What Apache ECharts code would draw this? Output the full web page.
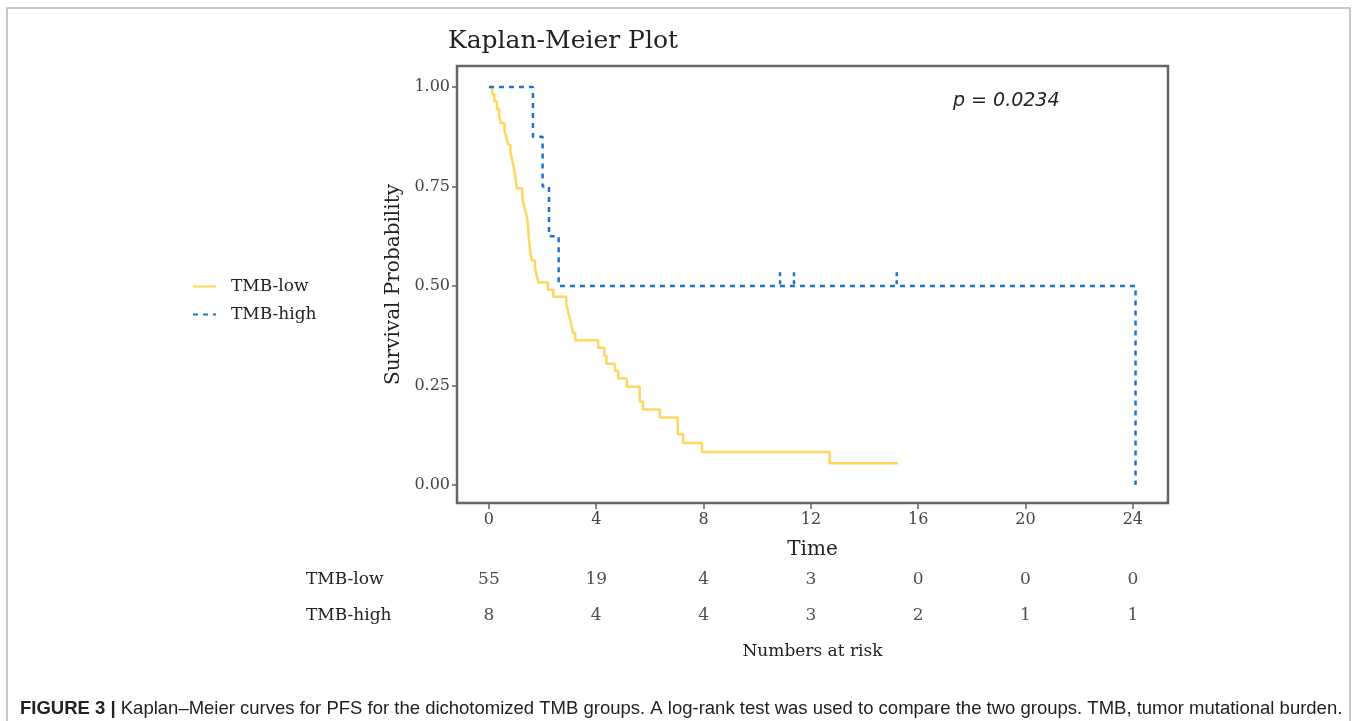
<!DOCTYPE html>
<html>
<head>
<meta charset="utf-8">
<script src="https://cdn.jsdelivr.net/npm/echarts@6/dist/echarts.min.js"></script>
<style>
html,body{margin:0;padding:0;background:#fff;}
#main{width:1357px;height:721px;}
</style>
</head>
<body>
<div id="main"></div>
<script>
// ---- data ----
const xTicks = [0, 4, 8, 12, 16, 20, 24];
const yTicks = [0, 0.25, 0.5, 0.75, 1.0];
const groups = ['TMB-low', 'TMB-high'];

const lowTimes = [0, 0.12, 0.2, 0.3, 0.38, 0.45, 0.58, 0.65, 0.72, 0.8, 0.86, 0.92, 0.97, 1.0, 1.04,
  1.24, 1.28, 1.35, 1.42, 1.45, 1.47, 1.49, 1.52, 1.55, 1.6, 1.72, 1.78, 1.85, 2.2, 2.4,
  2.88, 2.95, 3.02, 3.08, 3.14, 3.22, 4.07, 4.3, 4.38, 4.7, 4.82, 5.14, 5.62, 5.74, 6.37,
  7.04, 7.24, 7.94, 12.7, 15.25];
const lowSurv = [1.0, 0.982, 0.964, 0.945, 0.927, 0.909, 0.891, 0.873, 0.855, 0.836, 0.818, 0.8, 0.782, 0.764, 0.745,
  0.727, 0.709, 0.691, 0.673, 0.655, 0.636, 0.618, 0.6, 0.582, 0.564, 0.545, 0.527, 0.509, 0.491, 0.473,
  0.455, 0.436, 0.418, 0.4, 0.382, 0.364, 0.345, 0.325, 0.305, 0.287, 0.268, 0.247, 0.21, 0.19, 0.17,
  0.128, 0.106, 0.083, 0.055, 0.055];

const highTimes = [0, 1.64, 2.0, 2.24, 2.6, 24.1];
const highSurv = [1.0, 0.875, 0.75, 0.625, 0.5, 0.0];
const highCensorTimes = [10.85, 11.37, 15.2];
const highCensorSurv = [0.5, 0.5, 0.5];

const riskLow = [55, 19, 4, 3, 0, 0, 0];
const riskHigh = [8, 4, 4, 3, 2, 1, 1];

const pText = 'p = 0.0234';
const captionBold = 'FIGURE 3 |';
const captionText = ' Kaplan\u2013Meier curves for PFS for the dichotomized TMB groups. A log-rank test was used to compare the two groups. TMB, tumor mutational burden.';

// ---- chart ----
const YELLOW = '#FFD65E';
const BLUE = '#1B75C9';
const SERIF = '"DejaVu Serif", serif';
const X_MIN = -1.19, X_MAX = 25.31;
const Y_MIN = -0.045, Y_MAX = 1.053;

const chart = echarts.init(document.getElementById('main'), null, {renderer: 'canvas'});

const zip = (a, b) => a.map((v, i) => [v, b[i]]);

const censorSeries = highCensorTimes.map((t, i) => ({
  type: 'line', xAxisIndex: 0, yAxisIndex: 0, symbol: 'none', silent: true,
  data: [[t, highCensorSurv[i] + 0.035], [t, highCensorSurv[i]]],
  lineStyle: {color: BLUE, width: 2.5, type: [4, 4]}
}));

const riskData = [];
xTicks.forEach((t, i) => {
  riskData.push([t, groups[0], riskLow[i]]);
  riskData.push([t, groups[1], riskHigh[i]]);
});

const option = {
  animation: false,
  backgroundColor: '#fff',
  title: {
    text: 'Kaplan-Meier Plot', left: 443, top: 24,
    textStyle: {fontFamily: SERIF, fontWeight: 'normal', fontSize: 25, color: '#222'}
  },
  legend: {
    data: groups, orient: 'vertical', left: 187, top: 273,
    itemWidth: 23, itemHeight: 14, itemGap: 11,
    itemStyle: {opacity: 0},
    textStyle: {fontFamily: SERIF, fontSize: 17, color: '#222', padding: [0, 0, 0, 10]}
  },
  grid: [
    {left: 457, top: 66, width: 711, height: 437, show: true, borderColor: '#666', borderWidth: 2.5, backgroundColor: '#fff'},
    {left: 457, top: 562, width: 711, height: 72, show: false}
  ],
  xAxis: [
    {
      type: 'value', gridIndex: 0, min: X_MIN, max: X_MAX, position: 'bottom',
      name: 'Time', nameLocation: 'middle', nameGap: 37,
      nameTextStyle: {fontFamily: SERIF, fontSize: 20, color: '#222'},
      axisLine: {show: false, onZero: false},
      axisTick: {show: true, inside: false, length: 6, lineStyle: {color: '#666', width: 1.5}, customValues: xTicks},
      axisLabel: {customValues: xTicks, margin: 9, fontFamily: SERIF, fontSize: 16, color: '#444'},
      splitLine: {show: false}
    },
    {
      type: 'value', gridIndex: 1, min: X_MIN, max: X_MAX,
      name: 'Numbers at risk', nameLocation: 'middle', nameGap: 9,
      nameTextStyle: {fontFamily: SERIF, fontSize: 17, color: '#222'},
      axisLine: {show: false, onZero: false}, axisTick: {show: false}, axisLabel: {show: false}, splitLine: {show: false}
    }
  ],
  yAxis: [
    {
      type: 'value', gridIndex: 0, min: Y_MIN, max: Y_MAX, position: 'left',
      name: 'Survival Probability', nameLocation: 'middle', nameGap: 52,
      nameTextStyle: {fontFamily: SERIF, fontSize: 20, color: '#222'},
      axisLine: {show: false, onZero: false},
      axisTick: {show: true, inside: false, length: 5, lineStyle: {color: '#666', width: 1.5}, customValues: yTicks},
      axisLabel: {customValues: yTicks, margin: 7, fontFamily: SERIF, fontSize: 16, color: '#444',
        formatter: v => v.toFixed(2)},
      splitLine: {show: false}
    },
    {
      type: 'category', gridIndex: 1, data: groups, inverse: true,
      axisLine: {show: false, onZero: false}, axisTick: {show: false}, splitLine: {show: false},
      axisLabel: {align: 'left', margin: 151, fontFamily: SERIF, fontSize: 17, color: '#222'}
    }
  ],
  series: [
    {
      name: 'TMB-low', type: 'line', xAxisIndex: 0, yAxisIndex: 0, step: 'end', symbol: 'none',
      data: zip(lowTimes, lowSurv), lineStyle: {color: YELLOW, width: 2.5}, itemStyle: {color: YELLOW}
    },
    {
      name: 'TMB-high', type: 'line', xAxisIndex: 0, yAxisIndex: 0, step: 'end', symbol: 'none',
      data: zip(highTimes, highSurv), lineStyle: {color: BLUE, width: 2.5, type: [5, 5]}, itemStyle: {color: BLUE}
    },
    ...censorSeries,
    {
      type: 'scatter', xAxisIndex: 1, yAxisIndex: 1, symbolSize: 0, silent: true,
      data: riskData,
      label: {show: true, position: 'inside', formatter: p => String(p.value[2]),
        fontFamily: SERIF, fontSize: 17, color: '#222'}
    }
  ],
  graphic: [
    {type: 'text', left: 953, top: 92, style: {text: pText, fontFamily: '"DejaVu Sans", sans-serif', fontStyle: 'italic', fontSize: 19, fill: '#222'}},
    {type: 'rect', shape: {x: 7, y: 8, width: 1343, height: 740}, style: {fill: 'none', stroke: '#b5b5b5', lineWidth: 1.5}, silent: true},
    {type: 'text', left: 20, top: 699, style: {
      text: '{b|' + captionBold + '}{r|' + captionText + '}',
      rich: {
        b: {fontFamily: '"Liberation Sans", sans-serif', fontWeight: 'bold', fontSize: 18.5, fill: '#222'},
        r: {fontFamily: '"Liberation Sans", sans-serif', fontSize: 18.5, fill: '#222'}
      }
    }}
  ]
};
chart.setOption(option);
</script>
</body>
</html>
